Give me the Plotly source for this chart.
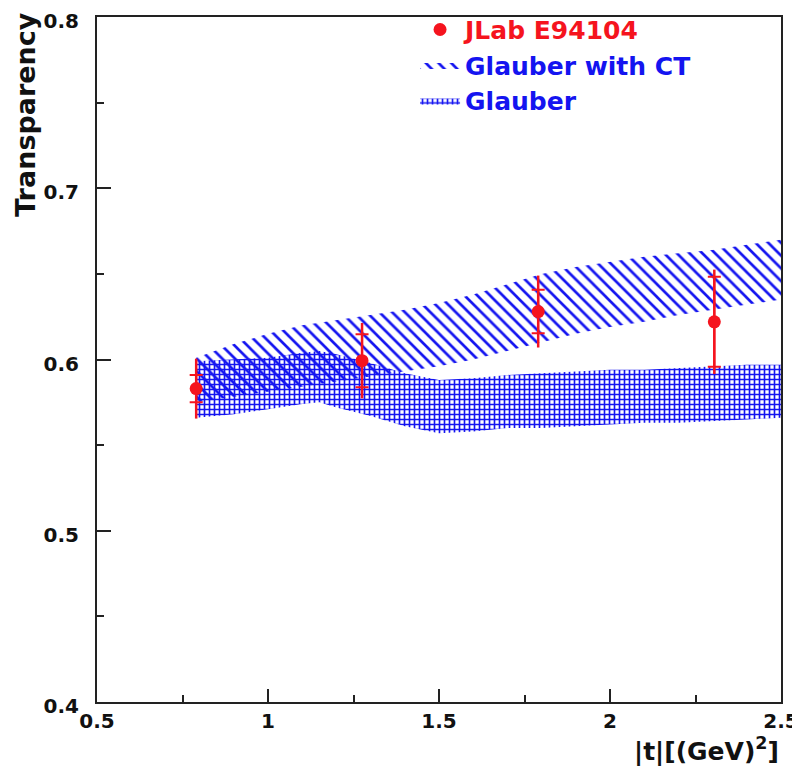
import plotly.graph_objects as go

# ---- data ----
t_data = [0.79, 1.275, 1.79, 2.305]
T_data = [0.583, 0.5993, 0.628, 0.622]
T_err_stat = [0.008, 0.0155, 0.0127, 0.0263]
T_err_tot = [0.0175, 0.022, 0.021, 0.0305]

band_t = [0.79, 0.9, 1.0, 1.1, 1.15, 1.2, 1.3, 1.4, 1.5, 1.6, 1.7, 1.8, 1.9, 2.0, 2.1, 2.2, 2.3, 2.4, 2.5]
ct_upper = [0.601, 0.609, 0.615, 0.620, 0.6215, 0.623, 0.626, 0.629, 0.633, 0.638, 0.644, 0.650, 0.654,
            0.657, 0.660, 0.662, 0.664, 0.667, 0.670]
ct_lower = [0.575, 0.578, 0.581, 0.584, 0.5855, 0.587, 0.590, 0.593, 0.596, 0.600, 0.605, 0.610, 0.615,
            0.619, 0.622, 0.626, 0.629, 0.632, 0.635]
gl_upper = [0.599, 0.600, 0.601, 0.604, 0.605, 0.603, 0.598, 0.592, 0.588, 0.589, 0.591, 0.592, 0.593,
            0.594, 0.594, 0.595, 0.596, 0.597, 0.597]
gl_lower = [0.566, 0.568, 0.571, 0.574, 0.575, 0.572, 0.567, 0.561, 0.557, 0.558, 0.560, 0.560, 0.561,
            0.562, 0.563, 0.563, 0.564, 0.565, 0.566]

x_ticks = [0.5, 1, 1.5, 2, 2.5]
x_ticklabels = ["0.5", "1", "1.5", "2", "2.5"]
y_ticks = [0.4, 0.5, 0.6, 0.7, 0.8]
y_ticklabels = ["0.4", "0.5", "0.6", "0.7", "0.8"]

RED = "#f5141e"
BLUE = "#1414f0"
INK = "#111111"
FONT = "DejaVu Sans"

fig = go.Figure()

fig.add_trace(go.Scatter(
    x=band_t + band_t[::-1], y=ct_upper + ct_lower[::-1],
    fill="toself", mode="lines", line=dict(width=0, color=BLUE),
    fillcolor="rgba(0,0,0,0)",
    fillpattern=dict(shape="\\", size=9, solidity=0.3, fgcolor=BLUE, fgopacity=1, bgcolor="rgba(0,0,0,0)"),
    name="<b>Glauber with CT</b>", legendrank=2,
))
fig.add_trace(go.Scatter(
    x=band_t + band_t[::-1], y=gl_upper + gl_lower[::-1],
    fill="toself", mode="lines", line=dict(width=0, color=BLUE),
    fillcolor="rgba(0,0,0,0)",
    fillpattern=dict(shape="+", size=5, solidity=0.55, fgcolor=BLUE, fgopacity=1, bgcolor="rgba(0,0,0,0)"),
    name="<b>Glauber</b>", legendrank=3,
))

# total error (line only)
fig.add_trace(go.Scatter(
    x=t_data, y=T_data, mode="markers",
    marker=dict(size=1, color=RED, opacity=0),
    error_y=dict(type="data", array=T_err_tot, color=RED, thickness=2.5, width=0),
    showlegend=False, hoverinfo="skip",
))
# stat error (with caps) + markers
fig.add_trace(go.Scatter(
    x=t_data, y=T_data, mode="markers",
    marker=dict(size=13, color=RED, symbol="circle"),
    error_y=dict(type="data", array=T_err_stat, color=RED, thickness=2, width=6.5),
    name=f"<b><span style='color:{RED}'>JLab E94104</span></b>", legendrank=1,
))

axis_common = dict(
    showgrid=False, zeroline=False, showline=True, linecolor="#222222", linewidth=2,
    mirror=True, ticks="inside", tickcolor="#222222", tickwidth=2, automargin=False,
    ticklabeloverflow="allow",
    tickfont=dict(family=FONT, size=20, color=INK, weight="bold"),
)

fig.update_xaxes(
    range=[0.5, 2.5], tickvals=x_ticks, ticktext=x_ticklabels, ticklen=13,
    minor=dict(dtick=0.25, tick0=0.5, ticks="inside", ticklen=7, tickcolor="#222222", tickwidth=2),
    **axis_common,
)
fig.update_yaxes(
    range=[0.4, 0.8], tickvals=y_ticks, ticktext=y_ticklabels, ticklen=14,
    ticklabelstandoff=12, ticklabelshift=4,
    minor=dict(dtick=0.05, tick0=0.4, ticks="inside", ticklen=7, tickcolor="#222222", tickwidth=2),
    **axis_common,
)

fig.add_annotation(
    text="<b>Transparency</b>", xref="paper", yref="paper", x=-0.104, y=1.011,
    xanchor="center", yanchor="top", textangle=-90, showarrow=False,
    font=dict(family=FONT, size=27, color=INK),
)
fig.add_annotation(
    text="<b>|t|[(GeV)<sup>2</sup>]</b>", xref="paper", yref="paper", x=1.0, y=-0.042,
    xanchor="right", yanchor="top", showarrow=False,
    font=dict(family=FONT, size=25, color=INK),
)

# page body has an 8px margin: size/margins chosen so the frame lands at x 97-781, y 17-702
fig.update_layout(
    width=792, height=768,
    margin=dict(l=89, r=19, t=9, b=74, autoexpand=False),
    paper_bgcolor="white", plot_bgcolor="white",
    showlegend=True,
    legend=dict(
        x=0.465, y=1.015, xanchor="left", yanchor="top",
        bgcolor="rgba(0,0,0,0)", borderwidth=0,
        font=dict(family=FONT, size=25, color=BLUE),
        tracegroupgap=0, itemwidth=40,
    ),
)

fig.write_html("out.html")
